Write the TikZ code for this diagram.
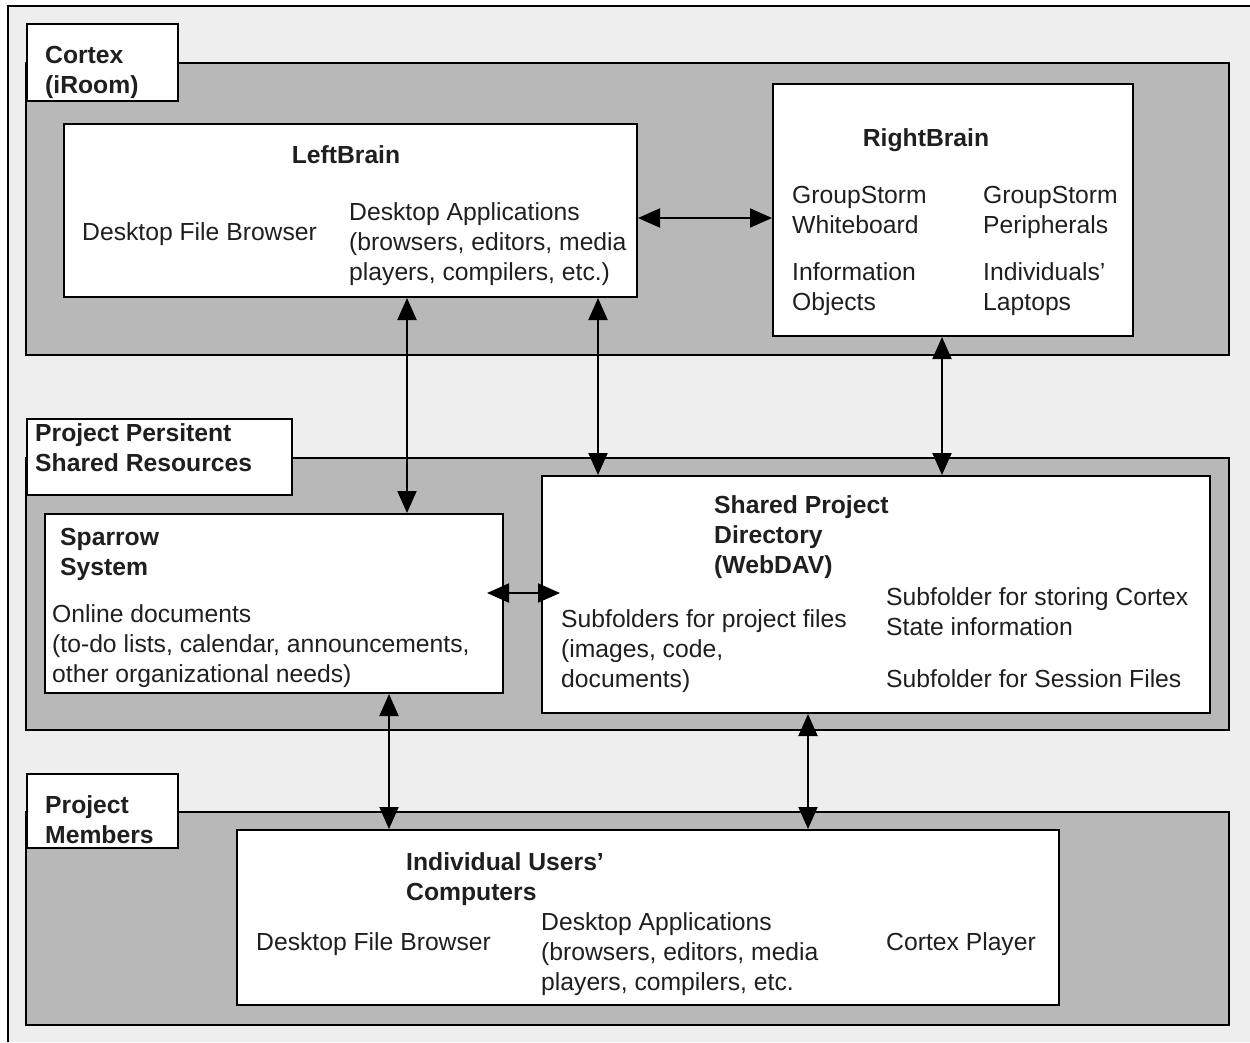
\documentclass[tikz,border=0pt]{standalone}
\usepackage{fontspec}
\setmainfont{Liberation Sans}
\usepackage{xcolor}
\usetikzlibrary{arrows.meta,positioning,calc}
\definecolor{bggray}{HTML}{EEEEEE}
\definecolor{panelgray}{HTML}{B8B8B8}

\begin{document}
\begin{tikzpicture}[
    x=1pt, y=-1pt,
    >={Triangle[length=22pt,width=19pt]},
    panel/.style={draw, fill=panelgray, line width=2pt},
    box/.style={draw, fill=white, line width=2pt, anchor=north west, inner sep=0pt},
    txt/.style={anchor=base west, align=left, inner sep=0pt, text=black!88, font=\fontsize{24.7}{30}\selectfont},
    hd/.style={txt, font=\fontsize{24.7}{30}\selectfont\bfseries},
    link/.style={<->, line width=2pt},
  ]
  \useasboundingbox (0,0) rectangle (1250,1042);
  \fill[bggray] (8,6) rectangle (1250,1042);
  \draw[line width=2pt] (8,1042) -- (8,6) -- (1250,6);

  % Cortex (iRoom); text nodes sit on the baseline of their last line
  \draw[panel] (26,63) rectangle (1229,355);
  \node[box, minimum width=151pt, minimum height=77pt] (cortextab) at (26,23) {};
  \node[hd] (cortexlbl) at (45,93) {Cortex\\(iRoom)};
  \node[box, minimum width=573pt, minimum height=173pt] (leftbrain) at (63,123) {};
  \node[hd, anchor=base] (lbtitle) at (346,163) {LeftBrain};
  \node[txt] (lbfiles) at (82,240) {Desktop File Browser};
  \node[txt] (lbapps) at (349,280) {Desktop Applications\\(browsers, editors, media\\players, compilers, etc.)};
  \node[box, minimum width=360pt, minimum height=252pt] (rightbrain) at (772,83) {};
  \node[hd, anchor=base] (rbtitle) at (926,146) {RightBrain};
  \node[txt] (rbwhite) at (792,233) {GroupStorm\\Whiteboard};
  \node[txt] (rbperi) at (983,233) {GroupStorm\\Peripherals};
  \node[txt] (rbinfo) at (792,310) {Information\\Objects};
  \node[txt] (rblaps) at (983,310) {Individuals’\\Laptops};

  % Project Persistent Shared Resources
  \draw[panel] (26,458) rectangle (1229,730);
  \node[box, minimum width=265pt, minimum height=76pt] (projtab) at (26,418) {};
  \node[hd] (projlbl) at (35,471) {Project Persitent\\Shared Resources};
  \node[box, minimum width=458pt, minimum height=179pt] (sparrow) at (44,513) {};
  \node[hd] (sptitle) at (60,575) {Sparrow\\System};
  \node[txt] (spdocs) at (52,682) {Online documents\\(to-do lists, calendar, announcements,\\other organizational needs)};
  \node[box, minimum width=668pt, minimum height=237pt] (shareddir) at (541,475) {};
  \node[hd] (sdtitle) at (714,573) {Shared Project\\Directory\\(WebDAV)};
  \node[txt] (sdfiles) at (561,687) {Subfolders for project files\\(images, code,\\documents)};
  \node[txt] (sdstate) at (886,635) {Subfolder for storing Cortex\\State information};
  \node[txt] (sdsess) at (886,687) {Subfolder for Session Files};

  % Project Members
  \draw[panel] (26,812) rectangle (1229,1025);
  \node[box, minimum width=151pt, minimum height=74pt] (membtab) at (26,773) {};
  \node[hd] (memblbl) at (45,843) {Project\\Members};
  \node[box, minimum width=822pt, minimum height=175pt] (users) at (236,829) {};
  \node[hd] (ustitle) at (406,900) {Individual Users’\\Computers};
  \node[txt] (usfiles) at (256,950) {Desktop File Browser};
  \node[txt] (usapps) at (541,990) {Desktop Applications\\(browsers, editors, media\\players, compilers, etc.};
  \node[txt] (usplayer) at (886,950) {Cortex Player};

  % connectors
  \draw[link] (leftbrain.east |- 0,218) -- (rightbrain.west |- 0,218);
  \draw[link] (leftbrain.south -| 407,0) -- (sparrow.north -| 407,0);
  \draw[link] (leftbrain.south -| 598,0) -- (shareddir.north -| 598,0);
  \draw[link] (rightbrain.south -| 942,0) -- (shareddir.north -| 942,0);
  \draw[link, shorten <=-17pt, shorten >=-19pt] (sparrow.east |- 0,593) -- (shareddir.west |- 0,593);
  \draw[link] (sparrow.south -| 389,0) -- (users.north -| 389,0);
  \draw[link] (shareddir.south -| 808,0) -- (users.north -| 808,0);
\end{tikzpicture}
\end{document}
